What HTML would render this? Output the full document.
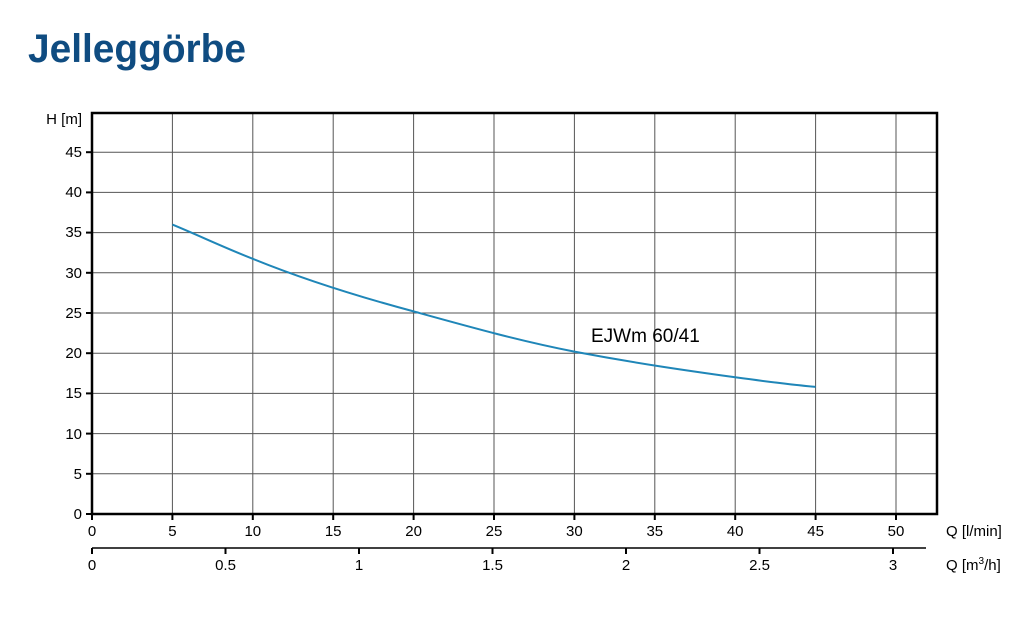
<!DOCTYPE html>
<html><head><meta charset="utf-8"><style>
body{margin:0;background:#fff;}
svg text{font-family:"Liberation Sans",sans-serif;}
</style></head><body>
<svg width="1032" height="622" viewBox="0 0 1032 622" xmlns="http://www.w3.org/2000/svg">
<text x="28" y="62" font-size="40" font-weight="bold" fill="#0f4c81" style="font-family:'Liberation Sans Narrow','Liberation Sans',sans-serif" textLength="218" lengthAdjust="spacingAndGlyphs">Jelleggörbe</text>
<g stroke="#555" stroke-width="1">
<line x1="172.4" y1="113" x2="172.4" y2="514"/><line x1="252.8" y1="113" x2="252.8" y2="514"/>
<line x1="333.2" y1="113" x2="333.2" y2="514"/><line x1="413.6" y1="113" x2="413.6" y2="514"/>
<line x1="494" y1="113" x2="494" y2="514"/><line x1="574.4" y1="113" x2="574.4" y2="514"/>
<line x1="654.8" y1="113" x2="654.8" y2="514"/><line x1="735.2" y1="113" x2="735.2" y2="514"/>
<line x1="815.6" y1="113" x2="815.6" y2="514"/><line x1="896" y1="113" x2="896" y2="514"/>
<line x1="92" y1="152.2" x2="937" y2="152.2"/><line x1="92" y1="192.4" x2="937" y2="192.4"/>
<line x1="92" y1="232.6" x2="937" y2="232.6"/><line x1="92" y1="272.8" x2="937" y2="272.8"/>
<line x1="92" y1="313" x2="937" y2="313"/><line x1="92" y1="353.2" x2="937" y2="353.2"/>
<line x1="92" y1="393.4" x2="937" y2="393.4"/><line x1="92" y1="433.6" x2="937" y2="433.6"/>
<line x1="92" y1="473.8" x2="937" y2="473.8"/>
</g>
<rect x="92" y="113" width="845" height="401" fill="none" stroke="#000" stroke-width="2.5"/>
<g stroke="#000" stroke-width="2">
<line x1="86" y1="152.2" x2="92" y2="152.2"/><line x1="86" y1="192.4" x2="92" y2="192.4"/>
<line x1="86" y1="232.6" x2="92" y2="232.6"/><line x1="86" y1="272.8" x2="92" y2="272.8"/>
<line x1="86" y1="313" x2="92" y2="313"/><line x1="86" y1="353.2" x2="92" y2="353.2"/>
<line x1="86" y1="393.4" x2="92" y2="393.4"/><line x1="86" y1="433.6" x2="92" y2="433.6"/>
<line x1="86" y1="473.8" x2="92" y2="473.8"/><line x1="86" y1="514" x2="92" y2="514"/>
<line x1="92" y1="514" x2="92" y2="520"/><line x1="172.4" y1="514" x2="172.4" y2="520"/>
<line x1="252.8" y1="514" x2="252.8" y2="520"/><line x1="333.2" y1="514" x2="333.2" y2="520"/>
<line x1="413.6" y1="514" x2="413.6" y2="520"/><line x1="494" y1="514" x2="494" y2="520"/>
<line x1="574.4" y1="514" x2="574.4" y2="520"/><line x1="654.8" y1="514" x2="654.8" y2="520"/>
<line x1="735.2" y1="514" x2="735.2" y2="520"/><line x1="815.6" y1="514" x2="815.6" y2="520"/>
<line x1="896" y1="514" x2="896" y2="520"/>
</g>
<line x1="92" y1="548" x2="926" y2="548" stroke="#000" stroke-width="1.5"/>
<g stroke="#000" stroke-width="2">
<line x1="92" y1="548" x2="92" y2="554"/><line x1="225.5" y1="548" x2="225.5" y2="554"/>
<line x1="359" y1="548" x2="359" y2="554"/><line x1="492.5" y1="548" x2="492.5" y2="554"/>
<line x1="626" y1="548" x2="626" y2="554"/><line x1="759.5" y1="548" x2="759.5" y2="554"/>
<line x1="893" y1="548" x2="893" y2="554"/>
</g>
<g font-size="15" text-anchor="end" fill="#000">
<text x="82" y="124">H [m]</text>
<text x="82" y="157">45</text><text x="82" y="197">40</text><text x="82" y="237">35</text>
<text x="82" y="278">30</text><text x="82" y="318">25</text><text x="82" y="358">20</text>
<text x="82" y="398">15</text><text x="82" y="439">10</text><text x="82" y="479">5</text>
<text x="82" y="519">0</text>
</g>
<g font-size="15" text-anchor="middle" fill="#000">
<text x="92" y="536">0</text><text x="172.4" y="536">5</text><text x="252.8" y="536">10</text>
<text x="333.2" y="536">15</text><text x="413.6" y="536">20</text><text x="494" y="536">25</text>
<text x="574.4" y="536">30</text><text x="654.8" y="536">35</text><text x="735.2" y="536">40</text>
<text x="815.6" y="536">45</text><text x="896" y="536">50</text>
<text x="92" y="570">0</text><text x="225.5" y="570">0.5</text><text x="359" y="570">1</text>
<text x="492.5" y="570">1.5</text><text x="626" y="570">2</text><text x="759.5" y="570">2.5</text>
<text x="893" y="570">3</text>
</g>
<text x="946" y="536" font-size="15">Q [l/min]</text>
<text x="946" y="570" font-size="15">Q [m<tspan font-size="10" dy="-6">3</tspan><tspan dy="6">/h]</tspan></text>
<path d="M172.4,224.6 C200,236 225,248 252.8,258.8 C300,278 360,297 413.6,311.4 C470,327 520,341 574.4,351.6 C640,364 690,371 735.2,377.3 C770,382 795,385 815.6,386.9" fill="none" stroke="#1f86b8" stroke-width="2"/>
<text x="591" y="342" font-size="19" fill="#000">EJWm 60/41</text>
</svg>
</body></html>
